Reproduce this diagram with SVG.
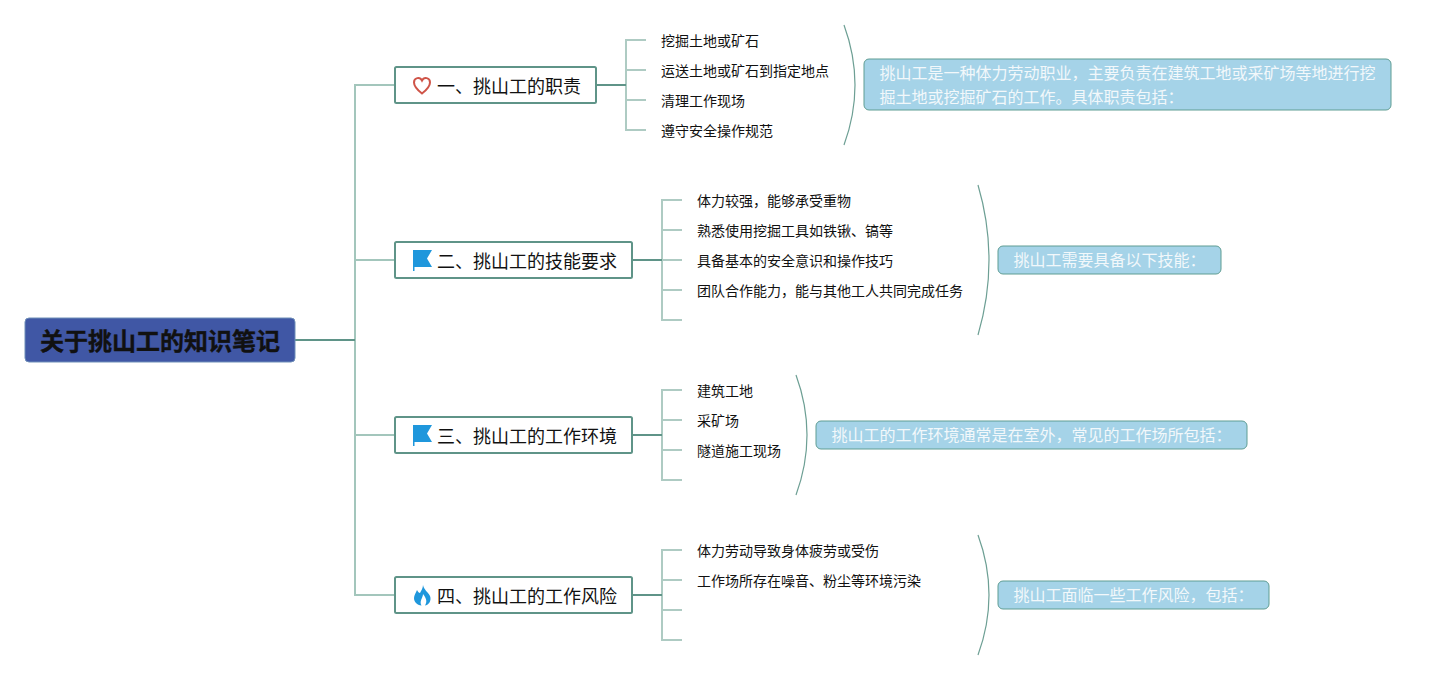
<svg xmlns="http://www.w3.org/2000/svg" width="1436" height="680" viewBox="0 0 1436 680">
<style>
text{font-family:"Noto Sans CJK SC","Liberation Sans",sans-serif;fill:#111}
.root{fill:#4057a5;stroke:#6f8fb8;stroke-width:1}
.topic{fill:#fff;stroke:#5f9488;stroke-width:2}
.note{fill:#a5d3e8;stroke:#5f9d93;stroke-width:1}
.tt{font-size:18px}
.st{font-size:14px}
.nt{font-size:16px;fill:#f2f8fb}
.main{fill:none;stroke:#a3c6bc;stroke-width:2}
.trunk{fill:none;stroke:#5f9488;stroke-width:2}
.sub{fill:none;stroke:#aecbc3;stroke-width:2}
.brace{fill:none;stroke:#6d9f94;stroke-width:1.2}
</style>
<g id="connectors">
<path class="main" d="M395 85H355V595H395M355 260H395M355 435H395"/>
<path class="trunk" d="M295 340H355"/>
<path class="sub" d="M646 40H626V130H646M626 70H646M626 100H646"/>
<path class="sub" d="M682 200H662V320H682M662 230H682M662 260H682M662 290H682"/>
<path class="sub" d="M682 390H662V480H682M662 420H682M662 450H682"/>
<path class="sub" d="M682 550H662V640H682M662 580H682M662 610H682"/>
<path class="trunk" d="M596 85H626M632 260H662M632 435H662M632 595H662"/>
<path class="brace" d="M844 25Q866 85 844 145"/>
<path class="brace" d="M978 185Q1000 260 978 335"/>
<path class="brace" d="M796 375Q818 435 796 495"/>
<path class="brace" d="M978 535Q1000 595 978 655"/>
</g>
<g id="root"><rect class="root" x="25" y="318" width="270" height="44" rx="4"/>
<text x="40" y="350" font-size="24" font-weight="700" stroke="#111" stroke-width="0.4">关于挑山工的知识笔记</text></g>
<g id="topic1"><rect class="topic" x="395" y="67" width="201" height="36" rx="1.5"/>
<path d="M422 93.500C417.500 90 414 87 414 82.500C414 77.500 420 76.500 422 80.500C424 76.500 430 77.500 430 82.500C430 87 426.500 90 422 93.500Z" fill="none" stroke="#cf5448" stroke-width="2"/>
<text class="tt" x="437" y="93">一、挑山工的职责</text></g>
<g id="topic2"><rect class="topic" x="395" y="242" width="237" height="36" rx="1.5"/>
<path d="M413 250H432L427 258.500L432 267H414.500V271H413Z" fill="#1f97dc"/>
<text class="tt" x="437" y="268">二、挑山工的技能要求</text></g>
<g id="topic3"><rect class="topic" x="395" y="417" width="237" height="36" rx="1.5"/>
<path d="M413 425H432L427 433.500L432 442H414.500V446H413Z" fill="#1f97dc"/>
<text class="tt" x="437" y="443">三、挑山工的工作环境</text></g>
<g id="topic4"><rect class="topic" x="395" y="577" width="237" height="36" rx="1.5"/>
<path d="M423 585C424 590 428 592 430 596C432 601 428 605.500 425 605.500C427 602 427 599 423 594C423 598 419 601 421.500 605.500C417 605 414 602 414 598C414 595 416 593 417 590C418 592 419 593 420 593C421 591 423 588 423 585Z" fill="#1f97dc"/>
<text class="tt" x="437" y="603">四、挑山工的工作风险</text></g>
<g id="items1">
<text class="st" x="661" y="46">挖掘土地或矿石</text>
<text class="st" x="661" y="76">运送土地或矿石到指定地点</text>
<text class="st" x="661" y="106">清理工作现场</text>
<text class="st" x="661" y="136">遵守安全操作规范</text></g>
<g id="items2">
<text class="st" x="697" y="206">体力较强，能够承受重物</text>
<text class="st" x="697" y="236">熟悉使用挖掘工具如铁锹、镐等</text>
<text class="st" x="697" y="266">具备基本的安全意识和操作技巧</text>
<text class="st" x="697" y="296">团队合作能力，能与其他工人共同完成任务</text></g>
<g id="items3">
<text class="st" x="697" y="396">建筑工地</text>
<text class="st" x="697" y="426">采矿场</text>
<text class="st" x="697" y="456">隧道施工现场</text></g>
<g id="items4">
<text class="st" x="697" y="556">体力劳动导致身体疲劳或受伤</text>
<text class="st" x="697" y="586">工作场所存在噪音、粉尘等环境污染</text></g>
<g id="note1"><rect class="note" x="864" y="59" width="527" height="51" rx="5"/>
<text class="nt" x="879.500" y="79">挑山工是一种体力劳动职业，主要负责在建筑工地或采矿场等地进行挖</text>
<text class="nt" x="879.500" y="103">掘土地或挖掘矿石的工作。具体职责包括：</text></g>
<g id="note2"><rect class="note" x="998" y="246" width="223" height="28" rx="5"/>
<text class="nt" x="1013.500" y="266">挑山工需要具备以下技能：</text></g>
<g id="note3"><rect class="note" x="816" y="421" width="431" height="28" rx="5"/>
<text class="nt" x="831.500" y="441">挑山工的工作环境通常是在室外，常见的工作场所包括：</text></g>
<g id="note4"><rect class="note" x="998" y="581" width="271" height="28" rx="5"/>
<text class="nt" x="1013.500" y="601">挑山工面临一些工作风险，包括：</text></g>
</svg>
